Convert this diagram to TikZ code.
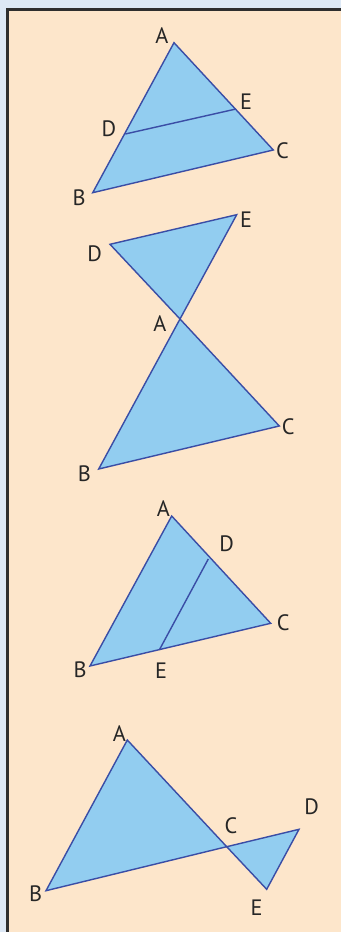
\documentclass[tikz,border=0pt]{standalone}
\usepackage{fontspec}
\setmainfont{PT Sans}
\usepackage{tikz}
\usepackage{xcolor}
\definecolor{pagebg}{HTML}{DDE8F5}
\definecolor{boxbg}{HTML}{FDE6CB}
\definecolor{boxline}{HTML}{2E2E2E}
\definecolor{trifill}{HTML}{92CDF0}
\definecolor{triline}{HTML}{3A4DA6}
\begin{document}
\begin{tikzpicture}[x=0.03cm,y=-0.03cm,
  tri/.style={fill=trifill,draw=triline,line width=1.2pt,line join=miter},
  seg/.style={draw=triline,line width=1.2pt},
  lbl/.style={font=\fontsize{19}{22}\selectfont,text=black!85,inner sep=0pt}]
\useasboundingbox[fill=pagebg] (0,0) rectangle (341,932);
\draw[fill=boxbg,draw=boxline,line width=2.5pt] (7.5,9.5) rectangle (346,940);
% 1.
\coordinate (A1) at (174,42.7);
\coordinate (B1) at (92.7,192.7);
\coordinate (C1) at (273.3,150);
\coordinate (D1) at (125.3,134);
\coordinate (E1) at (236,109);
\draw[tri] (A1) -- (B1) -- (C1) -- cycle;
\draw[seg] (D1) -- (E1);
\node[lbl] (lA1) at (162,36) {A};
\node[lbl] (lB1) at (79,198) {B};
\node[lbl] (lC1) at (282.5,151) {C};
\node[lbl] (lD1) at (109,129) {D};
\node[lbl] (lE1) at (246,102) {E};
% 2.
\coordinate (A2) at (180,319);
\coordinate (B2) at (98.7,469);
\coordinate (C2) at (279.3,426);
\coordinate (D2) at (110,244.3);
\coordinate (E2) at (236.7,214.7);
\draw[tri] (A2) -- (D2) -- (E2) -- cycle;
\draw[tri] (A2) -- (B2) -- (C2) -- cycle;
\node[lbl] (lA2) at (160,323.3) {A};
\node[lbl] (lB2) at (84.3,473.3) {B};
\node[lbl] (lC2) at (288.3,426.7) {C};
\node[lbl] (lD2) at (94.7,253.3) {D};
\node[lbl] (lE2) at (246,220) {E};
% 3.
\coordinate (A3) at (171.7,516);
\coordinate (B3) at (90,666);
\coordinate (C3) at (270.7,623.3);
\coordinate (D3) at (208.3,559);
\coordinate (E3) at (159.3,650);
\draw[tri] (A3) -- (B3) -- (C3) -- cycle;
\draw[seg] (D3) -- (E3);
\node[lbl] (lA3) at (163.3,508.3) {A};
\node[lbl] (lB3) at (80,670) {B};
\node[lbl] (lC3) at (283.3,622.7) {C};
\node[lbl] (lD3) at (226.7,543.3) {D};
\node[lbl] (lE3) at (161,671) {E};
% 4.
\coordinate (A4) at (127.3,740);
\coordinate (B4) at (46,890.7);
\coordinate (C4) at (226.7,846.7);
\coordinate (D4) at (299,829.3);
\coordinate (E4) at (266.7,889.3);
\draw[tri] (A4) -- (B4) -- (C4) -- cycle;
\draw[tri] (C4) -- (D4) -- (E4) -- cycle;
\node[lbl] (lA4) at (119.3,733.3) {A};
\node[lbl] (lB4) at (35.7,893.3) {B};
\node[lbl] (lC4) at (231,826) {C};
\node[lbl] (lD4) at (311.7,806.7) {D};
\node[lbl] (lE4) at (256.7,907.7) {E};
\end{tikzpicture}
\end{document}
